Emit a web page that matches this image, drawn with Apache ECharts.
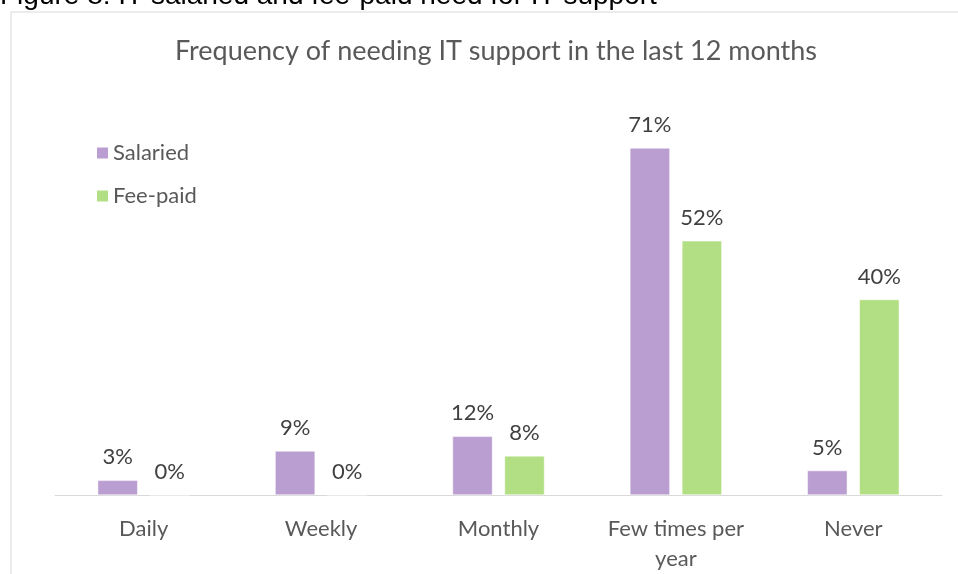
<!DOCTYPE html>
<html><head><meta charset="utf-8">
<script src="https://cdn.jsdelivr.net/npm/echarts@6/dist/echarts.min.js"></script>
<style>html,body{margin:0;padding:0;background:#fff}#c{width:958px;height:574px}</style>
</head><body><div id="c"></div>
<script>
const categories = ['Daily', 'Weekly', 'Monthly', 'Few times per\nyear', 'Never'];
const salaried = [3, 9, 12, 71, 5];
const feePaid = [0, 0, 8, 52, 40];
const seriesNames = ['Salaried', 'Fee-paid'];
const titleText = 'Frequency of needing IT support in the last 12 months';
const figureCaption = 'Figure 8: IT salaried and fee-paid need for IT support';

const FONT = 'Lato';
const chart = echarts.init(document.getElementById('c'));
chart.setOption({
  animation: false,
  backgroundColor: '#fff',
  graphic: [
    { type: 'rect', shape: { x: 11, y: 12, width: 1000, height: 600 }, style: { fill: 'none', stroke: '#d9d9d9', lineWidth: 1 }, z: -1 },
    { type: 'text', left: 0, top: -18, style: { text: figureCaption, font: '28px "Liberation Sans"', fill: '#000' } }
  ],
  title: {
    text: titleText, left: 491, top: 33, textAlign: 'center',
    textStyle: { fontFamily: FONT, fontSize: 27, fontWeight: 'normal', color: '#595959' }
  },
  legend: {
    orient: 'vertical', left: 90, top: 137, itemWidth: 13, itemHeight: 13, itemGap: 21,
    icon: 'rect',
    textStyle: { fontFamily: FONT, fontSize: 22, color: '#595959', padding: [0, 0, 0, -1] },
    data: seriesNames
  },
  grid: { left: 55, right: 16, top: 104, bottom: 79, containLabel: false },
  xAxis: {
    type: 'category', data: categories,
    axisLine: { lineStyle: { color: '#d9d9d9', width: 1 } },
    axisTick: { show: false },
    axisLabel: { fontFamily: FONT, fontSize: 22, color: '#595959', margin: 19, lineHeight: 30 }
  },
  yAxis: { type: 'value', min: 0, max: 80, show: false, splitLine: { show: false } },
  series: [
    {
      name: seriesNames[0], type: 'bar', data: salaried, barWidth: 40, barGap: '30%',
      itemStyle: { color: '#bb9ed1', borderColor: '#fff', borderWidth: 0.5 },
      label: { show: true, position: 'top', distance: 12, formatter: '{c}%', fontFamily: FONT, fontSize: 22, color: '#404040' }
    },
    {
      name: seriesNames[1], type: 'bar', data: feePaid, barWidth: 40,
      itemStyle: { color: '#b3df84', borderColor: '#fff', borderWidth: 0.5 },
      label: { show: true, position: 'top', distance: 12, formatter: '{c}%', fontFamily: FONT, fontSize: 22, color: '#404040' }
    }
  ]
});
</script></body></html>
